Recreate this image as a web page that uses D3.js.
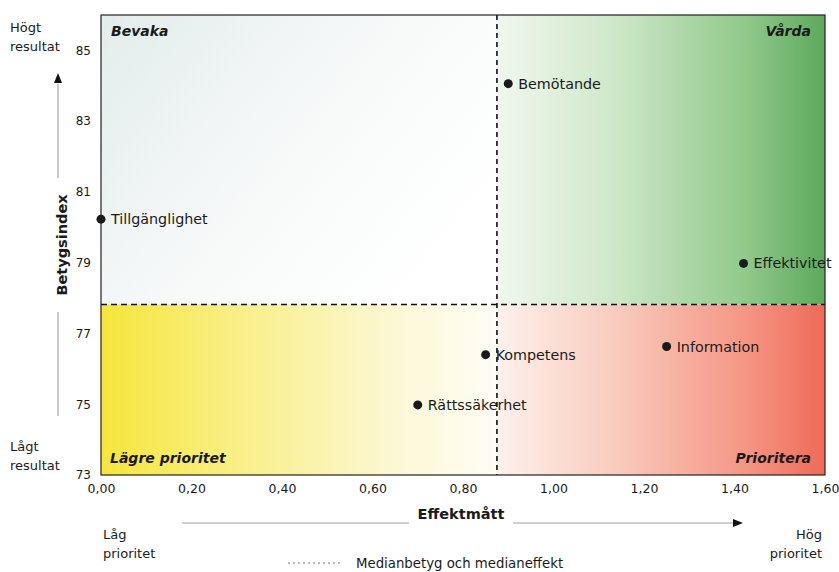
<!DOCTYPE html>
<html><head><meta charset="utf-8">
<script src="https://cdn.jsdelivr.net/npm/d3@7"></script>
<style>
body{margin:0;background:#fff;}
text{font-family:"DejaVu Sans",Verdana,sans-serif;fill:#1a1a1a;}
</style></head>
<body><svg id="c" width="839" height="572"></svg>
<script>
const categories = ["Tillgänglighet","Bemötande","Effektivitet","Information","Kompetens","Rättssäkerhet"];
const effekt = [0.00, 0.90, 1.42, 1.25, 0.85, 0.70];
const betyg = [80.23, 84.06, 78.98, 76.63, 76.40, 74.98];
const xTicks = [0,0.2,0.4,0.6,0.8,1.0,1.2,1.4,1.6];
const yTicks = [73,75,77,79,81,83,85];
const medianEffekt = 0.875;
const medianBetyg = 77.82;
const quadrants = ["Bevaka","Vårda","Lägre prioritet","Prioritera"];

const svg = d3.select("#c");
const L=101, R=825, T=15, B=475;
const x = d3.scaleLinear().domain([0,1.6]).range([L,R]);
const y = d3.scaleLinear().domain([73,86]).range([B,T]);
const loc = d3.formatLocale({decimal:",",thousands:" ",grouping:[3],currency:["","kr"]});
const fx = loc.format(".2f");

const defs = svg.append("defs");
function grad(id, x1,y1,x2,y2, stops){
  const g = defs.append("linearGradient").attr("id",id)
    .attr("x1",x1).attr("y1",y1).attr("x2",x2).attr("y2",y2);
  stops.forEach(s=>g.append("stop").attr("offset",s[0]).attr("stop-color",s[1]));
}
grad("gTL","0%","0%","100%","60%",[[0,"#e3ecec"],[0.55,"#f7f9f9"],[1,"#ffffff"]]);
grad("gTR","0%","0%","100%","0%",[[0,"#f1f7ee"],[0.35,"#d0e8ca"],[0.75,"#92ca8c"],[1,"#5da95c"]]);
grad("gBL","0%","0%","100%","0%",[[0,"#f6e63c"],[0.35,"#f9ef88"],[0.75,"#fcf8d6"],[1,"#fffdf6"]]);
grad("gBR","0%","0%","100%","0%",[[0,"#fdf1ec"],[0.35,"#f9cdbf"],[0.75,"#f59786"],[1,"#f06a58"]]);

const qd = [
  {x0:0,x1:medianEffekt,y0:medianBetyg,y1:86,f:"url(#gTL)"},
  {x0:medianEffekt,x1:1.6,y0:medianBetyg,y1:86,f:"url(#gTR)"},
  {x0:0,x1:medianEffekt,y0:73,y1:medianBetyg,f:"url(#gBL)"},
  {x0:medianEffekt,x1:1.6,y0:73,y1:medianBetyg,f:"url(#gBR)"}
];
svg.selectAll("rect.q").data(qd).join("rect").attr("class","q")
  .attr("x",d=>x(d.x0)).attr("y",d=>y(d.y1))
  .attr("width",d=>x(d.x1)-x(d.x0)).attr("height",d=>y(d.y0)-y(d.y1))
  .attr("fill",d=>d.f);

svg.append("line").attr("x1",x(medianEffekt)).attr("x2",x(medianEffekt)).attr("y1",y(86)).attr("y2",y(73))
  .attr("stroke","#111").attr("stroke-width",1.6).attr("stroke-dasharray","5,4");
svg.append("line").attr("x1",x(0)).attr("x2",x(1.6)).attr("y1",y(medianBetyg)).attr("y2",y(medianBetyg))
  .attr("stroke","#111").attr("stroke-width",1.6).attr("stroke-dasharray","6,4");

svg.append("rect").attr("x",L).attr("y",T).attr("width",R-L).attr("height",B-T)
  .attr("fill","none").attr("stroke","#222").attr("stroke-width",1.2);

const xa = svg.append("g").attr("transform",`translate(0,${B})`)
  .call(d3.axisBottom(x).tickValues(xTicks).tickFormat(fx).tickSize(0).tickPadding(9));
xa.select(".domain").remove();
xa.selectAll("text").style("font-size","12.5px").style("font-family","DejaVu Sans, sans-serif").attr("fill","#1a1a1a");
const ya = svg.append("g").attr("transform",`translate(${L},0)`)
  .call(d3.axisLeft(y).tickValues(yTicks).tickFormat(d3.format("d")).tickSize(0).tickPadding(10));
ya.select(".domain").remove();
ya.selectAll("text").style("font-size","12px").style("font-family","DejaVu Sans, sans-serif").attr("fill","#1a1a1a");

const ql = [
  {t:quadrants[0],x:L+10,y:T+21,a:"start"},
  {t:quadrants[1],x:R-14,y:T+21,a:"end"},
  {t:quadrants[2],x:L+9,y:B-12,a:"start"},
  {t:quadrants[3],x:R-14,y:B-12,a:"end"}
];
svg.selectAll("text.ql").data(ql).join("text").attr("class","ql")
  .attr("x",d=>d.x).attr("y",d=>d.y).attr("text-anchor",d=>d.a)
  .style("font-size","14px").style("font-weight","bold").style("font-style","italic").text(d=>d.t);

const pts = categories.map((c,i)=>({c,e:effekt[i],b:betyg[i]}));
svg.selectAll("circle.p").data(pts).join("circle").attr("class","p")
  .attr("cx",d=>x(d.e)).attr("cy",d=>y(d.b)).attr("r",4.5).attr("fill","#1a1a1a");
svg.selectAll("text.pl").data(pts).join("text").attr("class","pl")
  .attr("x",d=>x(d.e)+10).attr("y",d=>y(d.b)).attr("dy","0.35em")
  .style("font-size","14.3px").text(d=>d.c);

svg.append("text").attr("transform","translate(67,245) rotate(-90)")
  .attr("text-anchor","middle").style("font-size","14.5px").style("font-weight","bold").text("Betygsindex");
svg.append("line").attr("x1",58).attr("x2",58).attr("y1",84).attr("y2",178).attr("stroke","#777").attr("stroke-width",0.8);
svg.append("line").attr("x1",58).attr("x2",58).attr("y1",312).attr("y2",416).attr("stroke","#777").attr("stroke-width",0.8);
svg.append("path").attr("d","M58,73 L54,83 L62,83 Z").attr("fill","#111");
svg.append("text").attr("x",10).attr("y",32).style("font-size","13px").text("Högt");
svg.append("text").attr("x",10).attr("y",51).style("font-size","13px").text("resultat");
svg.append("text").attr("x",10).attr("y",451).style("font-size","13px").text("Lågt");
svg.append("text").attr("x",10).attr("y",470).style("font-size","13px").text("resultat");

svg.append("text").attr("x",461).attr("y",519).attr("text-anchor","middle")
  .style("font-size","14.5px").style("font-weight","bold").text("Effektmått");
svg.append("line").attr("x1",182).attr("x2",409).attr("y1",523).attr("y2",523).attr("stroke","#888").attr("stroke-width",0.8);
svg.append("line").attr("x1",513).attr("x2",733).attr("y1",523).attr("y2",523).attr("stroke","#888").attr("stroke-width",0.8);
svg.append("path").attr("d","M743,523 L733,519 L733,527 Z").attr("fill","#111");
svg.append("text").attr("x",103).attr("y",539).style("font-size","13px").text("Låg");
svg.append("text").attr("x",103).attr("y",558).style("font-size","13px").text("prioritet");
svg.append("text").attr("x",822).attr("y",539).attr("text-anchor","end").style("font-size","13px").text("Hög");
svg.append("text").attr("x",822).attr("y",558).attr("text-anchor","end").style("font-size","13px").text("prioritet");

svg.append("line").attr("x1",288).attr("x2",340).attr("y1",563).attr("y2",563)
  .attr("stroke","#777").attr("stroke-width",1).attr("stroke-dasharray","2,3");
svg.append("text").attr("x",356).attr("y",568).style("font-size","13.3px").text("Medianbetyg och medianeffekt");
</script></body></html>
